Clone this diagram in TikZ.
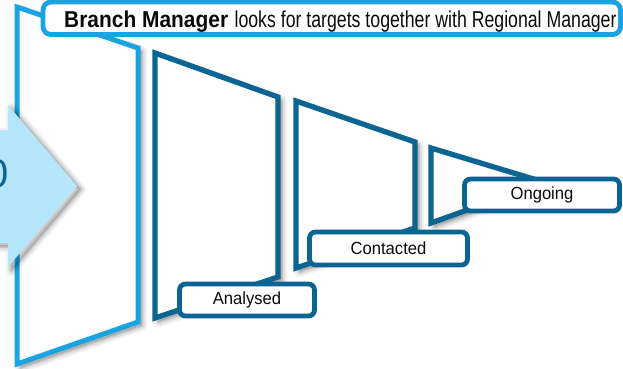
\documentclass[tikz,border=0pt]{standalone}
\usepackage{fontspec}
\setmainfont{Liberation Sans}
\newfontfamily\headbf[FakeStretch=0.91]{Liberation Sans}
\newfontfamily\headrm[FakeStretch=0.77]{Liberation Sans}
\newfontfamily\tagrm[FakeStretch=0.95]{Liberation Sans}

\definecolor{lightline}{HTML}{1AA3E0}
\definecolor{darkline}{HTML}{0B6492}
\definecolor{arrowfill}{HTML}{B5E6FC}
\definecolor{inktext}{HTML}{0A0A0A}

\tikzset{
  softshadow/.style={
    preaction={draw=black, line width=11pt, opacity=0.05, line join=round,
      transform canvas={shift={(3.5pt,-3.5pt)}}},
    preaction={draw=black, line width=7pt, opacity=0.08, line join=round,
      transform canvas={shift={(3.5pt,-3.5pt)}}},
    preaction={fill=black, draw=black, line width=3pt, opacity=0.12, line join=round,
      transform canvas={shift={(3.5pt,-3.5pt)}}}},
  lightpanel/.style={draw=lightline, fill=white, line width=5pt, softshadow},
  darkpanel/.style={draw=darkline, fill=white, line width=5.3pt, softshadow},
  headbox/.style={draw=lightline, fill=white, line width=4.8pt, rounded corners=8pt},
  tagbox/.style={draw=darkline, fill=white, line width=4.8pt, rounded corners=6pt,
    inner sep=0pt, text=inktext, font=\tagrm\fontsize{17.5}{20}\selectfont},
}

\begin{document}
\begin{tikzpicture}[x=1pt,y=-1pt]
\useasboundingbox (0,0) rectangle (623,368);
\begin{scope}
\clip (0,0) rectangle (623,368);

% outer (first) panel of the funnel
\draw[lightpanel] (17,7) -- (138,48) -- (138,322) -- (17,364) -- cycle;

% incoming arrow with its stage number
\fill[arrowfill, softshadow] (-10,130) -- (8,130) -- (8,105) -- (77,186)
  -- (8,267) -- (8,243) -- (-10,243) -- cycle;
\node[anchor=base west, inner sep=0pt, text=darkline,
  font=\fontsize{40}{40}\selectfont] (stage) at (-13.3,187) {0};

% title banner
\draw[headbox] (43,2) rectangle (620.5,34.5);
\node[anchor=base west, inner sep=0pt, text=inktext,
  font=\fontsize{23}{27}\selectfont] (title) at (64,27)
  {{\headbf\bfseries Branch Manager} {\headrm looks for targets together with Regional Manager}};

% narrowing funnel panels
\draw[darkpanel] (155,53) -- (278,97) -- (278,277) -- (155,318) -- cycle;
\draw[darkpanel] (296,101) -- (415,142) -- (415,228) -- (296,268) -- cycle;
\draw[darkpanel] (431,148) -- (540,181) -- (540,184) -- (431,223) -- cycle;

% stage labels
\node[tagbox, minimum width=135pt, minimum height=32pt] (analysed) at (247,300) {Analysed};
\node[tagbox, minimum width=158pt, minimum height=33pt] (contacted) at (388.5,248.5) {Contacted};
\node[tagbox, minimum width=155pt, minimum height=32pt] (ongoing) at (542,195) {Ongoing};
\end{scope}
\end{tikzpicture}
\end{document}
